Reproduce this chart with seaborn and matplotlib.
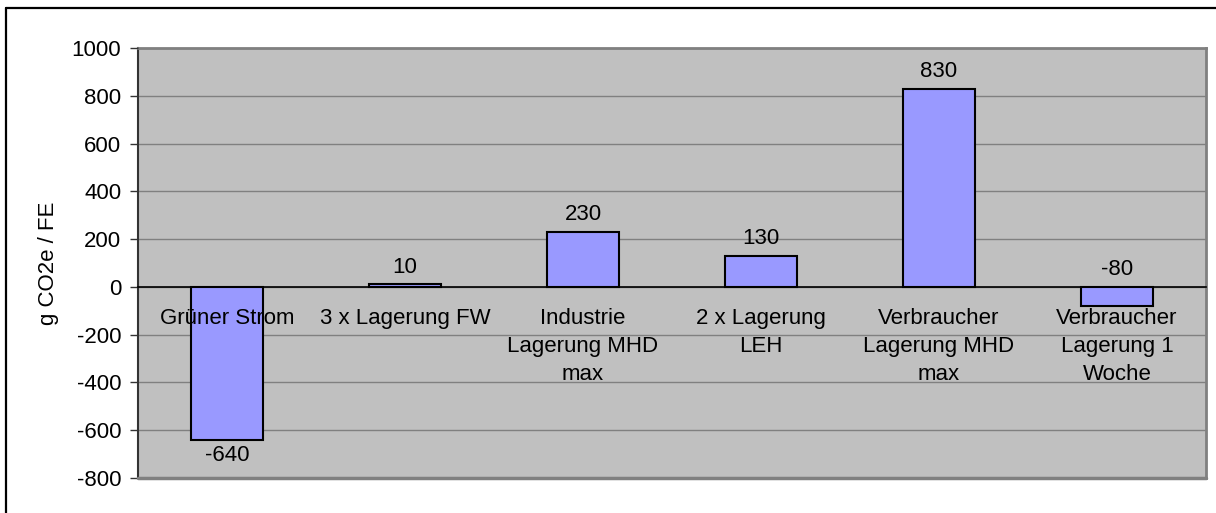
import matplotlib
matplotlib.use("Agg")
import matplotlib.pyplot as plt
from matplotlib.lines import Line2D
from matplotlib.ticker import FixedLocator
import seaborn as sns
import pandas as pd

categories = [
    "Grüner Strom",
    "3 x Lagerung FW",
    "Industrie\nLagerung MHD\nmax",
    "2 x Lagerung\nLEH",
    "Verbraucher\nLagerung MHD\nmax",
    "Verbraucher\nLagerung 1\nWoche",
]
values = [-640, 10, 230, 130, 830, -80]
y_ticks = [-800, -600, -400, -200, 0, 200, 400, 600, 800, 1000]
y_label = "g CO2e / FE"

sns.set_style("white")
plt.rcParams["font.family"] = ["Liberation Sans", "DejaVu Sans"]
plt.rcParams["text.color"] = "black"
FS = 16

W, H = 1216, 513
fig = plt.figure(figsize=(W / 100, H / 100), dpi=100)
fig.patch.set_facecolor("white")
ax = fig.add_axes([138 / W, 1 - 478 / H, (1206 - 138) / W, (478 - 48) / H])

df = pd.DataFrame({"Kategorie": categories, "Wert": values})
sns.barplot(data=df, x="Kategorie", y="Wert", color="#9999FF", saturation=1,
            edgecolor="black", linewidth=1.5, width=0.405, ax=ax, zorder=1)

ax.set_facecolor("#C0C0C0")
ax.set_xlim(-0.5, len(categories) - 0.5)
ax.set_ylim(y_ticks[0], y_ticks[-1])
ax.set_yticks(y_ticks)
ax.set_yticklabels([str(t) for t in y_ticks])
ax.grid(False)
ax.set_axisbelow(False)

# horizontal gridlines behind the bars, axis labels stay on top
for t in y_ticks:
    ax.axhline(t, color="#808080", linewidth=1, zorder=0.5)

# category axis runs along the zero line
ax.spines["bottom"].set_position(("data", 0))
ax.spines["bottom"].set_color("black")
ax.spines["bottom"].set_linewidth(1.2)
ax.spines["bottom"].set_zorder(3)
for side in ("top", "right"):
    ax.spines[side].set_color("#808080")
    ax.spines[side].set_linewidth(2)
ax.spines["left"].set_color("#333333")
ax.spines["left"].set_linewidth(1.5)
ax.add_line(Line2D([0, 1], [0, 0], transform=ax.transAxes, color="#808080",
                   linewidth=2.5, clip_on=False, zorder=3))

ax.xaxis.set_minor_locator(FixedLocator([i - 0.5 for i in range(len(categories) + 1)]))
ax.tick_params(axis="x", which="major", length=0, pad=15, labelsize=FS, colors="black")
ax.tick_params(axis="x", which="minor", length=5, width=1, direction="out", color="black")
ax.tick_params(axis="y", which="major", length=6, width=1, direction="out",
               color="#333333", pad=6, labelsize=FS, labelcolor="black", left=True)
for lbl in ax.get_xticklabels():
    lbl.set_linespacing(1.45)
ax.set_xlabel("")
ax.set_ylabel(y_label, fontsize=FS, labelpad=9, color="black")

# value labels
for i, v in enumerate(values):
    if v < -100:
        ax.annotate(f"{v}", xy=(i, v), xytext=(0, -4), textcoords="offset points",
                    ha="center", va="top", fontsize=FS, color="black", zorder=4)
    else:
        ax.annotate(f"{v}", xy=(i, max(v, 0)), xytext=(0, 8.5), textcoords="offset points",
                    ha="center", va="baseline", fontsize=FS, color="black", zorder=4)

# outer frame of the chart
fig.add_artist(Line2D([6 / W, 1], [1 - 8 / H, 1 - 8 / H], color="black", linewidth=1.6))
fig.add_artist(Line2D([6 / W, 6 / W], [0, 1 - 8 / H], color="black", linewidth=1.6))

fig.savefig("out.png", dpi=100, facecolor="white")
